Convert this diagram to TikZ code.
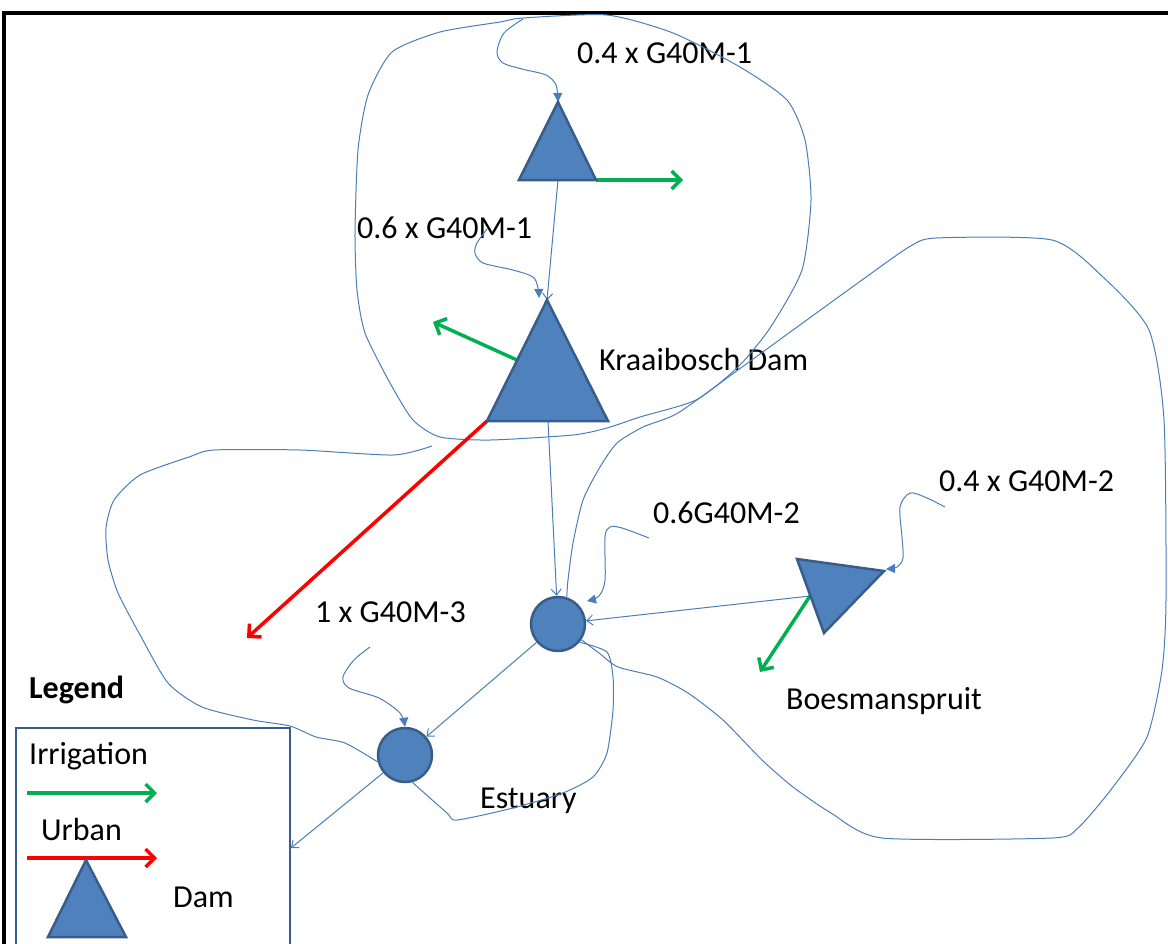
\documentclass[tikz,border=0pt]{standalone}
\usepackage{fontspec}
\setmainfont{Carlito}
\usetikzlibrary{arrows.meta}
\definecolor{damfill}{HTML}{4F81BD}
\definecolor{damline}{HTML}{385D8A}
\definecolor{flowline}{HTML}{4A7EBB}
\definecolor{irrgreen}{HTML}{00B050}
\definecolor{urbred}{HTML}{FF0000}
\begin{document}
\begin{tikzpicture}[x=1pt,y=-1pt,font=\fontsize{32}{38}\selectfont,
  dam/.style={fill=damfill,draw=damline,line width=2.5pt,line join=miter},
  res/.style={circle,fill=damfill,draw=damline,line width=2.5pt,minimum size=54pt,inner sep=0pt},
  flow/.style={draw=flowline,line width=1pt},
  link/.style={flow,-{Straight Barb[length=6pt,width=10pt]}},
  inflow/.style={flow,-{Triangle[length=9pt,width=9pt]}},
  irr/.style={draw=irrgreen,line width=3.5pt,-{Straight Barb[length=9pt,width=18pt]}},
  urb/.style={draw=urbred,line width=3.5pt,-{Straight Barb[length=9pt,width=18pt]}},
  lbl/.style={anchor=base west,inner sep=0pt}]
\useasboundingbox (0,0) rectangle (1168,943);
\draw[line width=3.5pt] (4,950) -- (4,13) -- (1175,13);

\path (577,63) node[lbl](inA){0.4 x G40M-1} (357,238) node[lbl](inB){0.6 x G40M-1} (599,370) node[lbl](kbname){Kraaibosch Dam} (653,523) node[lbl](inC){0.6G40M-2} (939,491) node[lbl](inD){0.4 x G40M-2} (315,622) node[lbl](inE){1 x G40M-3} (786,709) node[lbl](bsname){Boesmanspruit} (480,808) node[lbl](estname){Estuary};

% dams and reservoirs
\coordinate (ud-top) at (558,102); \coordinate (ud-base) at (558,180); \coordinate (ud-right) at (596,180);
\coordinate (kb-top) at (547,300); \coordinate (kb-base) at (548,421); \coordinate (kb-left) at (487,421); \coordinate (kb-side) at (517,360);
\coordinate (bs-tip) at (884,571); \coordinate (bs-side) at (810,596);
\node[res] (upres) at (558,624) {};
\node[res] (estres) at (405,755) {};

% catchment loops
\draw[flow] plot[smooth cycle,tension=0.4] coordinates {(523,18) (607,15) (673,33) (740,67) (787,100) (805,140) (811,200) (802,270) (770,328) (738,367) (696,400) (640,417) (607,428) (573,435) (490,440) (440,437) (413,420) (390,383) (365,333) (357,290) (355,233) (358,150) (368,95) (392,52) (440,32) (500,22)};
\draw[flow] plot[smooth,tension=0.4] coordinates {(upres.72) (568,580) (573,543) (583,500) (600,467) (617,443) (643,427) (678,413) (738,370) (793,330) (862,280) (909,247) (936,238) (1052,240) (1103,277) (1149,330) (1164,420) (1166,600) (1162,670) (1147,737) (1113,787) (1078,828) (1052,838) (882,838) (831,813) (793,787) (762,760) (723,720) (688,693) (657,677) (618,667) (599,653) (upres.-34)};
\draw[flow] plot[smooth,tension=0.4] coordinates {(estres.194) (345,743) (316,737) (290,726) (253,720) (202,707) (168,683) (139,633) (118,593) (108,560) (106,528) (114,500) (140,475) (189,457) (214,450) (300,450) (393,455) (432,446)};
\draw[flow] plot[smooth,tension=0.4] coordinates {(upres.-40) (607,652) (613,677) (613,710) (607,753) (593,777) (563,793) (513,808) (457,820) (447,813) (estres.-75)};

% inflows
\draw[inflow] plot[smooth] coordinates {(523,19) (504,33) (497,52) (503,63) (522,69) (546,75) (556,85) (ud-top)};
\draw[inflow] plot[smooth] coordinates {(487,229) (477,243) (475,253) (483,263) (513,270) (533,277) (538,288) (539,298)};
\draw[inflow] plot[smooth] coordinates {(649,538) (622,528) (610,527) (605,537) (605,580) (599,596) (587,601)};
\draw[inflow] plot[smooth] coordinates {(945,507) (927,498) (910,493) (900,507) (902,537) (903,558) (897,567) (886,569)};
\draw[inflow] plot[smooth] coordinates {(370,647) (354,660) (343,677) (349,688) (379,698) (400,713) (estres.north)};

% links between dams
\coordinate (outlet) at (291,848);
\draw[link] (ud-base) -- (kb-top);
\draw[link] (kb-base) -- (upres);
\draw[link] (bs-side) -- (upres);
\draw[link] (upres) -- (estres);
\draw[link] (estres) -- (outlet);

% abstractions
\coordinate (ud-irr) at (683,180); \coordinate (kb-irr) at (433,322);
\coordinate (kb-urb) at (247,638); \coordinate (bs-irr) at (760,672);
\draw[irr] (ud-right) -- (ud-irr);
\draw[irr] (kb-side) -- (kb-irr);
\draw[urb] (kb-left) -- (kb-urb);
\draw[irr] (bs-side) -- (bs-irr);

\filldraw[dam] (ud-top) -- (596,180) -- (519,180) -- cycle;
\filldraw[dam] (kb-top) -- (608,421) -- (kb-left) -- cycle;
\filldraw[dam] (bs-tip) -- (824,633) -- (797,559) -- cycle;

% legend
\node[lbl,font=\fontsize{32}{38}\selectfont\bfseries] (legtitle) at (29,698) {Legend};
\draw[draw=damline,line width=2.5pt] (16,728) rectangle (290,960);
\node[lbl] (legirr) at (29,764) {Irrigation};
\node[lbl] (legurb) at (41,840) {Urban};
\node[lbl] (legdam) at (173,907) {Dam};
\coordinate (li-a) at (27,793); \coordinate (li-b) at (157,793);
\coordinate (lu-a) at (27,858); \coordinate (lu-b) at (157,858);
\draw[irr] (li-a) -- (li-b);
\draw[urb] (lu-a) -- (lu-b);
\filldraw[dam] (86,860) -- (126,937) -- (48,937) -- cycle;
\end{tikzpicture}
\end{document}
